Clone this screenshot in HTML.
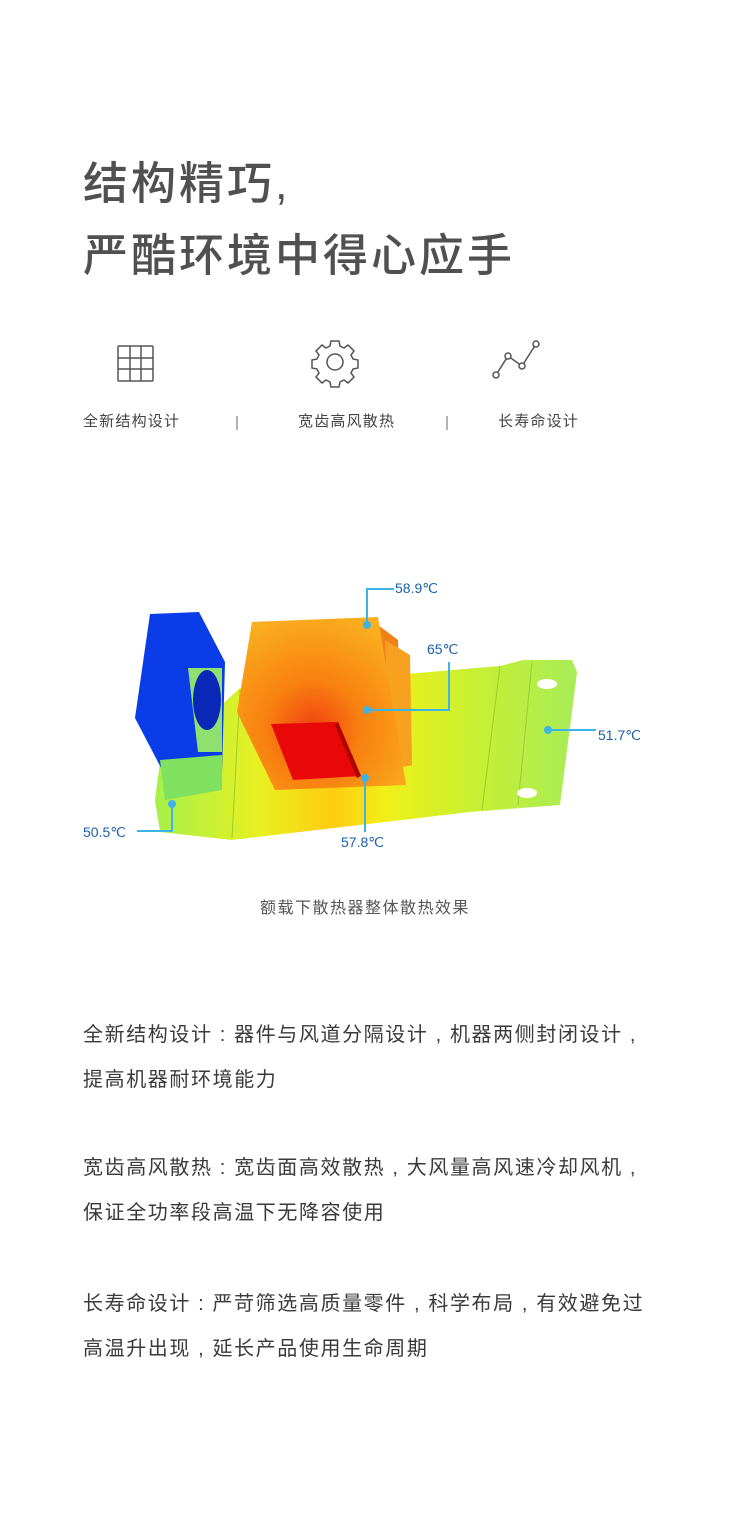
<!DOCTYPE html>
<html><head><meta charset="utf-8"><style>
body{margin:0;background:#fff;}
#p{position:relative;width:750px;height:1513px;overflow:hidden;font-family:"Liberation Sans","Noto Sans CJK SC",sans-serif;color:#4a4a4a;}
.t{position:absolute;left:83px;font-size:45px;letter-spacing:3px;color:#505050;font-weight:500;line-height:1;white-space:nowrap;}
.f{position:absolute;top:414px;font-size:15px;color:#444;white-space:nowrap;line-height:1;letter-spacing:1.2px;}
.b{position:absolute;left:83px;font-size:20px;letter-spacing:1.6px;color:#3a3a3a;white-space:nowrap;line-height:1;}
.lbl{font-family:"Liberation Sans",sans-serif;font-size:14px;fill:#1a5fa8;}
</style></head><body><div id="p">
<div class="t" style="top:161px">结构精巧,</div>
<div class="t" style="top:233px">严酷环境中得心应手</div>

<svg style="position:absolute;left:0;top:0" width="750" height="1513">
 <g fill="none" stroke="#555" stroke-width="1.5">
  <rect x="118" y="346" width="35" height="35" rx="1"/>
  <line x1="130" y1="346" x2="130" y2="381"/><line x1="141" y1="346" x2="141" y2="381"/>
  <line x1="118" y1="358" x2="153" y2="358"/><line x1="118" y1="369" x2="153" y2="369"/>
  <path d="M331 341 h8 l1 5 l4 2 l4 -3 l6 6 l-3 4 l2 4 l5 1 v8 l-5 1 l-2 4 l3 4 l-6 6 l-4 -3 l-4 2 l-1 5 h-8 l-1 -5 l-4 -2 l-4 3 l-6 -6 l3 -4 l-2 -4 l-5 -1 v-8 l5 -1 l2 -4 l-3 -4 l6 -6 l4 3 l4 -2 z"/>
  <circle cx="335" cy="362" r="8"/>
  <polyline points="496,375 508,356 522,366 536,344"/>
  <circle cx="496" cy="375" r="3" fill="#fff"/><circle cx="508" cy="356" r="3" fill="#fff"/>
  <circle cx="522" cy="366" r="3" fill="#fff"/><circle cx="536" cy="344" r="3" fill="#fff"/>
 </g>
 <line x1="237" y1="416" x2="237" y2="430" stroke="#666" stroke-width="1"/>
 <line x1="447" y1="416" x2="447" y2="430" stroke="#666" stroke-width="1"/>

 <defs>
  <linearGradient id="pl" x1="0" y1="0" x2="1" y2="0">
   <stop offset="0" stop-color="#a6f04a"/><stop offset="0.25" stop-color="#e8f020"/>
   <stop offset="0.42" stop-color="#ffcc10"/><stop offset="0.55" stop-color="#f0f018"/>
   <stop offset="0.75" stop-color="#c8f030"/><stop offset="1" stop-color="#a8ec58"/>
  </linearGradient>
  <radialGradient id="hs" cx="0.45" cy="0.65" r="0.7">
   <stop offset="0" stop-color="#f04010"/><stop offset="0.4" stop-color="#f88010"/><stop offset="1" stop-color="#fab020"/>
  </radialGradient>
 </defs>
 <polygon points="155,800 160,762 240,688 500,666 523,660 572,660 577,672 560,805 470,812 232,840 160,832" fill="url(#pl)"/>
 <line x1="240" y1="690" x2="232" y2="838" stroke="#9acc30" stroke-width="1"/>
 <line x1="500" y1="666" x2="482" y2="810" stroke="#9acc30" stroke-width="1"/>
 <line x1="532" y1="662" x2="518" y2="805" stroke="#9acc30" stroke-width="1"/>
 <ellipse cx="547" cy="684" rx="10" ry="5" fill="#fff"/>
 <ellipse cx="527" cy="793" rx="10" ry="5" fill="#fff"/>
 <polygon points="150,614 199,612 225,662 222,772 170,785 135,718" fill="#0a3ce8"/>
 <polygon points="160,760 222,755 222,790 165,800" fill="#80e060"/>
 <polygon points="188,668 222,668 222,752 198,752" fill="#90e070"/>
 <ellipse cx="207" cy="700" rx="14" ry="30" fill="#0a28b8"/>
 <polygon points="378,625 398,640 402,770 382,775" fill="#f08018"/>
 <polygon points="385,640 410,655 412,765 390,770" fill="#f8a020"/>
 <polygon points="252,622 378,617 406,785 275,790 237,712" fill="url(#hs)"/>
 <polygon points="271,724 338,722 361,776 293,780" fill="#e80808"/>
 <polygon points="338,722 361,776 357,778 335,725" fill="#b00000"/>

 <g stroke="#3cb4e8" stroke-width="2" fill="none">
  <polyline points="367,625 367,589 394,589"/>
  <polyline points="367,710 449,710 449,662"/>
  <polyline points="548,730 596,730"/>
  <polyline points="172,804 172,831 137,831"/>
  <polyline points="365,778 365,832"/>
 </g>
 <g fill="#3cb4e8">
  <circle cx="367" cy="625" r="4"/><circle cx="367" cy="710" r="4"/><circle cx="548" cy="730" r="4"/>
  <circle cx="172" cy="804" r="4"/><circle cx="365" cy="778" r="4"/>
 </g>
 <text class="lbl" x="395" y="593">58.9℃</text>
 <text class="lbl" x="427" y="654">65℃</text>
 <text class="lbl" x="598" y="740">51.7℃</text>
 <text class="lbl" x="83" y="837">50.5℃</text>
 <text class="lbl" x="341" y="847">57.8℃</text>
</svg>

<div class="f" style="left:83px">全新结构设计</div>
<div class="f" style="left:298px">宽齿高风散热</div>
<div class="f" style="left:498px">长寿命设计</div>

<div style="position:absolute;top:901px;left:0;width:730px;text-align:center;font-size:16px;letter-spacing:1.5px;color:#555;line-height:1;">额载下散热器整体散热效果</div>

<div class="b" style="top:1025px">全新结构设计 : 器件与风道分隔设计 , 机器两侧封闭设计 ,</div>
<div class="b" style="top:1070px">提高机器耐环境能力</div>
<div class="b" style="top:1158px">宽齿高风散热 : 宽齿面高效散热 , 大风量高风速冷却风机 ,</div>
<div class="b" style="top:1203px">保证全功率段高温下无降容使用</div>
<div class="b" style="top:1294px">长寿命设计 : 严苛筛选高质量零件 , 科学布局 , 有效避免过</div>
<div class="b" style="top:1339px">高温升出现 , 延长产品使用生命周期</div>
</div></body></html>
